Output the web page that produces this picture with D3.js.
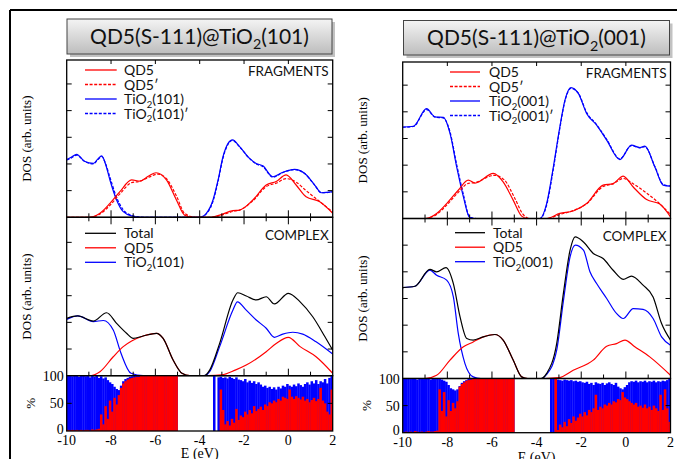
<!DOCTYPE html>
<html><head><meta charset="utf-8">
<script src="https://cdn.jsdelivr.net/npm/d3@7"></script>
<style>body{margin:0;background:#fff}svg{display:block}</style>
</head><body>
<svg id="chart" width="677" height="459"></svg>
<script>
// ---- Projected DOS, [E (eV), DOS (arb. units)] ----
// QD5(S-111)@TiO2(101): isolated fragments
const frag101QD5 = [[-10,0],[-9,0],[-8.5,0.15],[-8.05,0.52],[-7.6,0.96],[-7.07,1.4],[-6.7,1.36],[-6.3,1.55],[-5.97,1.67],[-5.5,1.4],[-5.05,0.65],[-4.68,0.08],[-4.3,0],[-3.5,0],[-3.1,0.08],[-2.5,0.25],[-2.2,0.27],[-1.6,0.65],[-1,1.21],[-0.55,1.34],[-0.1,1.59],[0.35,1.21],[0.8,0.77],[1.4,0.59],[2,0.15]];
const frag101QD5p = [[-10,0],[-9,0],[-8.5,0.12],[-8.05,0.45],[-7.6,0.88],[-7.07,1.3],[-6.7,1.35],[-6.3,1.5],[-5.9,1.62],[-5.5,1.45],[-5.05,0.8],[-4.68,0.15],[-4.2,0],[-3.5,0],[-3.1,0.06],[-2.5,0.22],[-2.2,0.27],[-1.6,0.62],[-1,1.15],[-0.55,1.28],[-0.1,1.45],[0.35,1.32],[0.8,1.0],[1.4,0.6],[2,0.2]];
const frag101TiO2 = [[-10,2.17],[-9.8,2.25],[-9.55,2.36],[-9.2,2.1],[-8.8,2.02],[-8.6,2.18],[-8.42,2.3],[-8.25,2.0],[-8.05,1.4],[-7.75,0.65],[-7.45,0.21],[-7.07,0.05],[-6.6,0],[-4,0],[-3.7,0.15],[-3.4,0.65],[-3.17,1.4],[-2.95,2.27],[-2.72,2.77],[-2.52,2.9],[-2.2,2.65],[-1.75,2.21],[-1.45,2.02],[-1.15,1.93],[-0.7,1.52],[-0.25,1.69],[0.28,1.8],[0.73,1.65],[1.19,1.21],[1.49,0.92],[2,0.96]];
const frag101TiO2p = [[-10,2.15],[-9.8,2.22],[-9.55,2.33],[-9.2,2.1],[-8.8,2.0],[-8.6,2.16],[-8.42,2.28],[-8.25,2.02],[-8.05,1.5],[-7.75,0.75],[-7.45,0.28],[-7.07,0.07],[-6.5,0],[-4,0],[-3.7,0.13],[-3.4,0.6],[-3.17,1.35],[-2.95,2.22],[-2.72,2.74],[-2.52,2.88],[-2.2,2.64],[-1.75,2.2],[-1.45,2.0],[-1.15,1.9],[-0.7,1.5],[-0.25,1.68],[0.28,1.79],[0.73,1.64],[1.19,1.2],[1.49,0.92],[2,0.95]];
// QD5(S-111)@TiO2(101): complex
const comp101Total = [[-10,2.15],[-9.5,2.24],[-8.8,2.05],[-8.2,2.36],[-7.75,1.96],[-7.3,1.59],[-7,1.4],[-6.55,1.49],[-5.95,1.59],[-5.65,1.4],[-5.2,0.59],[-4.8,0.09],[-4.45,0],[-3.8,0],[-3.55,0.21],[-3.1,1.21],[-2.5,2.84],[-2.28,3.11],[-1.9,2.99],[-1.45,2.84],[-1,2.96],[-0.63,2.69],[0,3.09],[0.53,2.77],[1.1,2.21],[1.65,1.46],[2,0.96]];
const comp101QD5 = [[-10,0],[-9,0],[-8.5,0.15],[-7.9,0.71],[-7.45,1.09],[-7.07,1.3],[-6.55,1.49],[-5.95,1.59],[-5.65,1.4],[-5.2,0.59],[-4.8,0.09],[-4.45,0],[-3.6,0],[-3,0.03],[-2.4,0.21],[-1.9,0.4],[-1,0.9],[-0.55,1.21],[0,1.44],[0.53,1.09],[1.25,0.71],[2,0.09]];
const comp101TiO2 = [[-10,2.11],[-9.5,2.24],[-8.8,2.03],[-8.35,2.07],[-7.9,1.71],[-7.55,0.84],[-7.1,0.09],[-6.55,0],[-3.8,0],[-3.55,0.15],[-3.1,1.09],[-2.5,2.46],[-2.3,2.77],[-1.9,2.46],[-1.45,2.09],[-1,1.78],[-0.63,1.44],[-0.25,1.56],[0.2,1.63],[0.65,1.56],[1.25,1.27],[2,0.81]];
// QD5(S-111)@TiO2(001): isolated fragments
const frag001QD5 = [[-10,0],[-9,0],[-8.48,0.19],[-8.03,0.56],[-7.51,1.06],[-7.06,1.44],[-6.76,1.33],[-5.94,1.69],[-5.5,1.37],[-5.05,0.69],[-4.67,0.09],[-4.4,0],[-3.55,0],[-2.96,0.19],[-2.36,0.28],[-1.76,0.56],[-1.02,1.25],[-0.57,1.31],[-0.12,1.59],[0.33,1.18],[0.93,0.71],[1.52,0.54],[2,0.06]];
const frag001QD5p = [[-10,0],[-9,0],[-8.48,0.15],[-8.03,0.5],[-7.51,0.98],[-7.06,1.32],[-6.76,1.35],[-5.9,1.62],[-5.45,1.45],[-5,0.8],[-4.6,0.15],[-4.3,0],[-3.55,0],[-2.96,0.15],[-2.36,0.3],[-1.76,0.55],[-1.02,1.2],[-0.57,1.3],[-0.12,1.5],[0.33,1.3],[0.93,0.95],[1.52,0.55],[2,0.15]];
const frag001TiO2 = [[-10,3.43],[-9.52,3.46],[-8.93,4.12],[-8.55,3.81],[-8.18,3.79],[-7.88,3.19],[-7.58,1.93],[-7.28,0.81],[-7,0.04],[-6.8,0],[-3.85,0],[-3.55,0.56],[-3.25,1.93],[-2.96,3.43],[-2.73,4.44],[-2.46,4.91],[-2.13,4.69],[-1.76,3.94],[-1.31,3.5],[-0.86,2.94],[-0.27,2.21],[0.25,2.75],[0.63,2.66],[0.85,2.71],[1.3,1.93],[1.67,1.25],[2,1.21]];
const frag001TiO2p = [[-10,3.42],[-9.52,3.45],[-8.93,4.08],[-8.55,3.8],[-8.18,3.77],[-7.88,3.25],[-7.58,2.02],[-7.28,0.9],[-7,0.06],[-6.7,0],[-3.85,0],[-3.55,0.5],[-3.25,1.85],[-2.96,3.38],[-2.73,4.4],[-2.46,4.88],[-2.13,4.7],[-1.76,3.98],[-1.31,3.52],[-0.86,2.97],[-0.27,2.24],[0.25,2.73],[0.63,2.65],[0.85,2.69],[1.3,1.95],[1.67,1.28],[2,1.22]];
// QD5(S-111)@TiO2(001): complex
const comp001Total = [[-10,3.41],[-9.45,3.46],[-8.78,4.09],[-8.48,4.0],[-8.06,4.16],[-7.73,3.56],[-7.43,2.31],[-7.13,1.5],[-6.84,1.44],[-6.39,1.56],[-5.87,1.65],[-5.5,1.44],[-5.05,0.69],[-4.67,0.06],[-4.4,0],[-3.8,0],[-3.55,0.19],[-3.1,1.31],[-2.8,3.19],[-2.5,4.81],[-2.27,5.31],[-1.9,5.12],[-1.46,4.69],[-1.02,4.5],[-0.57,4.06],[-0.12,3.72],[0.25,3.84],[0.77,3.5],[1.22,3.06],[1.6,2.06],[2,1.44]];
const comp001QD5 = [[-10,0],[-9,0],[-8.48,0.12],[-7.88,0.69],[-7.28,1.19],[-6.84,1.37],[-6.39,1.56],[-5.87,1.65],[-5.5,1.44],[-5.05,0.69],[-4.67,0.06],[-4.4,0],[-3.6,0],[-3,0.03],[-2.36,0.31],[-1.46,0.69],[-0.86,1.21],[-0.42,1.31],[-0.04,1.44],[0.4,1.19],[1.07,0.81],[2,0.12]];
const comp001TiO2 = [[-10,3.41],[-9.45,3.46],[-8.78,4.06],[-8.48,3.87],[-8.03,3.69],[-7.73,3.06],[-7.51,1.69],[-7.21,0.56],[-6.84,0.06],[-6.5,0],[-3.8,0],[-3.55,0.15],[-3.1,1.06],[-2.8,2.9],[-2.5,4.56],[-2.27,5.0],[-1.9,4.81],[-1.61,4.0],[-1.31,3.56],[-0.86,3.0],[-0.42,2.44],[-0.12,2.25],[0.33,2.62],[0.77,2.59],[1.22,2.25],[1.6,1.56],[2,1.25]];

// ---- Percentage contributions in 0.1 eV bins starting at -10 eV (null = no states) ----
const pctBinStart = -10, pctBinWidth = 0.1;
const N = null;
const pct101TiO2 = [100,100,99,100,100,98,100,100,99,100,97,100,98,100,96,
  99,95,97,92,88,85,80,76,74,82,90,94,96,98,99,100,100,100,
  100,100,100,100,100,100,100,100,100,100,100,100,100,100,100,100,100,
  N,N,N,N,N,N,N,N,N,N,N,N,N,N,N,N,
  100,N,97,
  98,96,97,95,98,96,94,97,93,92,90,94,88,91,87,90,85,88,84,80,82,78,80,76,79,75,80,77,82,80,85,
  82,80,84,81,86,83,80,85,88,84,90,86,92,85,90,88,94,86,96,100];
const pct101QD5 = [2,1,2,1,2,1,2,1,2,2,1,3,2,3,4,
  30,12,45,22,55,35,60,48,65,78,86,90,93,95,96,97,98,98,
  100,100,100,100,100,100,100,100,100,100,100,100,100,100,100,100,100,
  N,N,N,N,N,N,N,N,N,N,N,N,N,N,N,N,
  0,N,0,
  75,38,12,18,10,22,15,40,20,28,25,35,30,38,32,45,36,40,44,38,48,45,52,50,55,52,58,55,62,60,58,
  75,62,58,63,60,57,62,55,58,52,56,60,54,58,78,55,50,35,30,75];
const pct001TiO2 = [100,100,100,99,100,100,98,100,100,99,100,100,98,100,99,100,
  99,98,96,94,88,82,80,78,80,86,92,95,97,99,100,100,
  100,100,100,100,100,100,100,100,100,100,100,100,100,100,100,100,100,100,
  N,N,N,N,N,N,N,N,N,N,N,N,N,N,N,N,
  100,100,100,
  98,97,96,98,97,96,97,95,96,94,95,93,92,94,90,92,88,93,91,90,92,88,91,93,90,88,92,85,82,80,84,
  88,93,95,94,96,93,95,94,96,93,95,94,96,93,95,94,96,95,97,100];
const pct001QD5 = [1,2,1,2,1,3,2,1,2,1,2,3,2,2,3,4,
  80,40,75,30,60,40,55,45,58,85,90,93,96,97,98,99,
  100,100,100,100,100,100,100,100,100,100,100,100,100,100,100,100,100,100,
  N,N,N,N,N,N,N,N,N,N,N,N,N,N,N,N,
  0,0,100,
  5,15,10,20,12,25,18,30,22,28,35,30,38,32,42,38,45,70,42,48,45,52,50,55,52,58,56,62,60,75,65,
  62,58,55,52,55,48,50,46,52,45,48,42,50,45,40,70,42,80,45,20];

const xTicks = [-10,-8,-6,-4,-2,0,2];
const dosTicks = [1,2,3,4,5];
const pctTicks = [0,50,100];

const RED = "#ff0000", BLUE = "#0000ff";
const SERIF = "'Liberation Serif','DejaVu Serif',serif";
const SANS = "Lato,'Open Sans',sans-serif";

const svg = d3.select("#chart");

// outer frame
svg.append("line").attr("x1",10).attr("x2",677).attr("y1",10).attr("y2",10).attr("stroke","#000").attr("stroke-width",2);
svg.append("line").attr("x1",10).attr("x2",10).attr("y1",10).attr("y2",459).attr("stroke","#000").attr("stroke-width",2);

const defs = svg.append("defs");
const grad = defs.append("linearGradient").attr("id","titleGrad").attr("x1",0).attr("x2",0).attr("y1",0).attr("y2",1);
grad.append("stop").attr("offset","0%").attr("stop-color","#f4f4f4");
grad.append("stop").attr("offset","100%").attr("stop-color","#bdbdbd");

const sides = [
  {id:"a", x0:66.7, x1:332.7, top:60, fragB:217.3, compB:375.7, pctB:431, eLabelY:457.5,
   titleBox:[67,19,265,35], surface:"101",
   frag:[frag101QD5,frag101QD5p,frag101TiO2,frag101TiO2p],
   comp:[comp101Total,comp101QD5,comp101TiO2],
   pctBlue:pct101TiO2, pctRed:pct101QD5,
   fragLeg:{x:85,w:31.7,tx:124,y:70}, compLeg:{x:85,w:31,tx:124,y:233.3}},
  {id:"b", x0:402.7, x1:670.5, top:62, fragB:218.5, compB:378.5, pctB:432.7, eLabelY:461.5,
   titleBox:[403.5,20.5,266,34.5], surface:"001",
   frag:[frag001QD5,frag001QD5p,frag001TiO2,frag001TiO2p],
   comp:[comp001Total,comp001QD5,comp001TiO2],
   pctBlue:pct001TiO2, pctRed:pct001QD5,
   fragLeg:{x:450,w:30,tx:489,y:72}, compLeg:{x:455,w:30,tx:493,y:232.7}}
];

const unitPx = 26.67;

function addTio2(sel, surface, prime, size){
  sel.append("tspan").text("TiO");
  sel.append("tspan").text("2").attr("font-size", size*0.68).attr("dy", size*0.28);
  sel.append("tspan").text("(" + surface + ")" + (prime ? "\u2032" : "")).attr("dy", -size*0.28);
}

sides.forEach(s => {
  const g = svg.append("g");
  const x = d3.scaleLinear().domain([-10,2]).range([s.x0, s.x1]);

  // title box with shadow
  const [bx,by,bw,bh] = s.titleBox;
  g.append("rect").attr("x",bx+3).attr("y",by+3).attr("width",bw).attr("height",bh).attr("fill","#9a9a9a").attr("opacity",0.6);
  g.append("rect").attr("x",bx).attr("y",by).attr("width",bw).attr("height",bh).attr("fill","url(#titleGrad)").attr("stroke","#444").attr("stroke-width",1);
  const tt = g.append("text").attr("x",bx+bw/2).attr("y",by+bh/2+7).attr("text-anchor","middle")
    .attr("font-family",SANS).attr("font-size",21).attr("fill","#111");
  tt.append("tspan").text("QD5(S-111)@");
  addTio2(tt, s.surface, false, 21);

  // ---- DOS panels ----
  const panels = [
    {top:s.top, bot:s.fragB, data:s.frag, kind:"frag"},
    {top:s.fragB, bot:s.compB, data:s.comp, kind:"comp"}
  ];
  panels.forEach((p, pi) => {
    const y = d3.scaleLinear().domain([0,(p.bot-p.top)/unitPx]).range([p.bot,p.top]);
    const clipId = "clip"+s.id+pi;
    defs.append("clipPath").attr("id",clipId).append("rect")
      .attr("x",s.x0).attr("y",p.top).attr("width",s.x1-s.x0).attr("height",p.bot-p.top);
    const line = d3.line().x(d=>x(d[0])).y(d=>y(d[1])).curve(d3.curveMonotoneX);
    const styles = p.kind==="frag"
      ? [[RED,null],[RED,"3,1.6"],[BLUE,null],[BLUE,"3,1.6"]]
      : [["#000",null],[RED,null],[BLUE,null]];
    const drawOrder = p.kind==="frag" ? [3,2,1,0] : [2,1,0];
    drawOrder.forEach(i => {
      g.append("path").datum(p.data[i]).attr("d",line).attr("fill","none")
        .attr("stroke",styles[i][0]).attr("stroke-width",1.2)
        .attr("stroke-dasharray",styles[i][1]).attr("clip-path",`url(#${clipId})`);
    });
    // frame
    g.append("rect").attr("x",s.x0).attr("y",p.top).attr("width",s.x1-s.x0).attr("height",p.bot-p.top)
      .attr("fill","none").attr("stroke","#000").attr("stroke-width",1.3);
    // y ticks inward on both sides
    dosTicks.forEach(t => {
      const yy = y(t);
      if (yy <= p.top+1) return;
      g.append("line").attr("x1",s.x0).attr("x2",s.x0+5).attr("y1",yy).attr("y2",yy).attr("stroke","#000");
      g.append("line").attr("x1",s.x1-5).attr("x2",s.x1).attr("y1",yy).attr("y2",yy).attr("stroke","#000");
    });
    // x ticks inward, majors every 2 eV and minors every 1 eV
    d3.range(-9,2,1).forEach(e => {
      const major = e % 2 === 0;
      const xx = x(e);
      g.append("line").attr("x1",xx).attr("x2",xx).attr("y1",p.bot).attr("y2",p.bot-(major?7:4)).attr("stroke","#000");
      g.append("line").attr("x1",xx).attr("x2",xx).attr("y1",p.top).attr("y2",p.top+(major?(pi===0?4:7):(pi===0?0:4))).attr("stroke","#000");
    });
    // y label
    g.append("text").attr("transform",`translate(${s.x0-36},${(p.top+p.bot)/2}) rotate(-90)`)
      .attr("text-anchor","middle").attr("font-family",SERIF).attr("font-size",13).text("DOS (arb. units)");

    // legend
    const lg = p.kind==="frag" ? s.fragLeg : s.compLeg;
    const labels = p.kind==="frag"
      ? [["QD5"],["QD5\u2032"],[null],[null]]
      : [["Total"],["QD5"],[null]];
    labels.forEach((lab,i) => {
      const ly = lg.y + i*14.5;
      g.append("line").attr("x1",lg.x).attr("x2",lg.x+lg.w).attr("y1",ly).attr("y2",ly)
        .attr("stroke",styles[i][0]).attr("stroke-width",1.3).attr("stroke-dasharray",styles[i][1]);
      const t = g.append("text").attr("x",lg.tx).attr("y",ly+5).attr("font-family",SANS).attr("font-size",14).attr("fill","#111");
      if (lab[0] !== null) t.text(lab[0]);
      else addTio2(t, s.surface, p.kind==="frag" && i===3, 14);
    });
    g.append("text").attr("x",s.x1-4).attr("y",p.kind==="frag"?p.top+15.5:p.top+22.5)
      .attr("text-anchor","end").attr("font-family",SANS).attr("font-size",13.5).attr("fill","#111")
      .text(p.kind==="frag"?"FRAGMENTS":"COMPLEX");
  });

  // ---- percentage panel ----
  const yp = d3.scaleLinear().domain([0,100]).range([s.pctB, s.compB]);
  const bins = s.pctBlue.map((b,i) => ({e: pctBinStart + i*pctBinWidth, blue: b, red: s.pctRed[i]}))
    .filter(d => d.blue !== null);
  const bw2 = x(pctBinStart+pctBinWidth) - x(pctBinStart);
  g.selectAll(null).data(bins).join("rect")
    .attr("x",d=>x(d.e)).attr("width",bw2+0.3)
    .attr("y",d=>yp(d.blue)).attr("height",d=>yp(0)-yp(d.blue)).attr("fill",BLUE);
  g.selectAll(null).data(bins).join("rect")
    .attr("x",d=>x(d.e)).attr("width",bw2+0.3)
    .attr("y",d=>yp(d.red)).attr("height",d=>yp(0)-yp(d.red)).attr("fill",RED);
  g.append("rect").attr("x",s.x0).attr("y",s.compB).attr("width",s.x1-s.x0).attr("height",s.pctB-s.compB)
    .attr("fill","none").attr("stroke","#000").attr("stroke-width",1.3);
  [50].forEach(t => {
    g.append("line").attr("x1",s.x0).attr("x2",s.x0+5).attr("y1",yp(t)).attr("y2",yp(t)).attr("stroke","#000");
    g.append("line").attr("x1",s.x1-5).attr("x2",s.x1).attr("y1",yp(t)).attr("y2",yp(t)).attr("stroke","#000");
  });
  pctTicks.forEach(t => {
    g.append("text").attr("x",s.x0-3).attr("y",yp(t)+(t===0?2.5:5)).attr("text-anchor","end")
      .attr("font-family",SERIF).attr("font-size",14).text(t);
  });
  xTicks.forEach(t => {
    g.append("text").attr("x",x(t)).attr("y",s.pctB+14).attr("text-anchor","middle")
      .attr("font-family",SERIF).attr("font-size",14).text(t);
  });
  g.append("text").attr("transform",`translate(${s.x0-32},${(s.compB+s.pctB)/2}) rotate(-90)`)
    .attr("text-anchor","middle").attr("font-family",SERIF).attr("font-size",13).text("%");
  g.append("text").attr("x",(s.x0+s.x1)/2).attr("y",s.eLabelY).attr("text-anchor","middle")
    .attr("font-family",SERIF).attr("font-size",14).text("E (eV)");
});
</script>
</body></html>
